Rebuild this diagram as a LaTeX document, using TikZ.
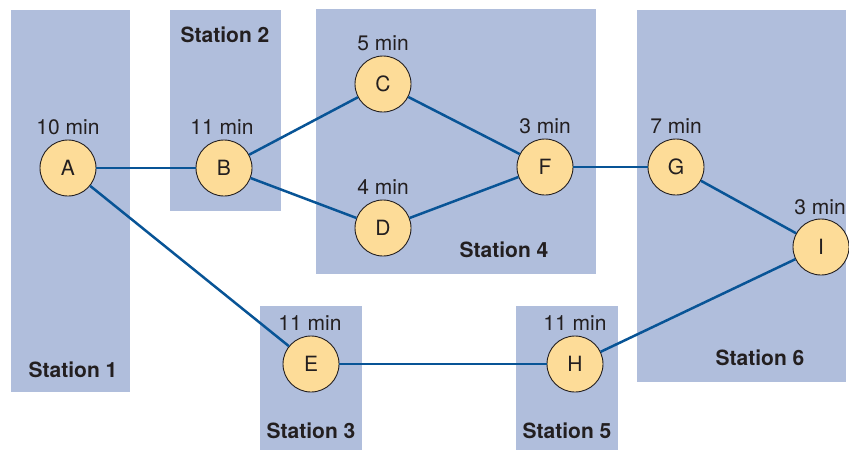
\documentclass[tikz,border=0pt]{standalone}
\usepackage{fontspec}
\setmainfont{TeX Gyre Heros}
\definecolor{stationfill}{RGB}{176,190,220}
\definecolor{taskfill}{RGB}{253,220,152}
\definecolor{linkblue}{RGB}{8,84,150}
\definecolor{txt}{RGB}{35,31,32}
\begin{document}
\begin{tikzpicture}[x=1pt,y=-1pt,
  station/.style={fill=stationfill,draw=none},
  task/.style={circle,draw=txt,line width=0.9pt,fill=taskfill,minimum size=56pt,inner sep=0pt,font=\fontsize{21}{25}\selectfont,text=txt},
  timelbl/.style={font=\fontsize{21}{25}\selectfont,text=txt,inner sep=0pt},
  stlbl/.style={font=\fontsize{21}{25}\selectfont\bfseries,text=txt,inner sep=0pt},
  link/.style={draw=linkblue,line width=2.5pt}]
\useasboundingbox (0,0) rectangle (849,451);
% stations
\fill[station] (11,10) rectangle (130,392);
\fill[station] (170,10) rectangle (281,211);
\fill[station] (316,9) rectangle (596,274);
\fill[station] (637,10) rectangle (846,382);
\fill[station] (260,306) rectangle (362,450);
\fill[station] (516,306) rectangle (618,450);
\node[stlbl] (s1) at (73,370) {Station 1};
\node[stlbl] (s2) at (225,35) {Station 2};
\node[stlbl] (s4) at (504,250) {Station 4};
\node[stlbl] (s6) at (760,358) {Station 6};
\node[stlbl] (s3) at (311,431) {Station 3};
\node[stlbl] (s5) at (567,431) {Station 5};
% tasks
\node[task] (A) at (68,168) {A};
\node[task] (B) at (224,168) {B};
\node[task] (C) at (383,84) {C};
\node[task] (D) at (383,228) {D};
\node[task] (F) at (545,167) {F};
\node[task] (G) at (676,167) {G};
\node[task] (I) at (821,247) {I};
\node[task] (E) at (311,364) {E};
\node[task] (H) at (575,364) {H};
% times
\node[timelbl] (tA) at (68,127) {10 min};
\node[timelbl] (tB) at (222,127) {11 min};
\node[timelbl] (tC) at (383,43) {5 min};
\node[timelbl] (tD) at (383,187) {4 min};
\node[timelbl] (tF) at (545,126) {3 min};
\node[timelbl] (tG) at (676,126) {7 min};
\node[timelbl] (tI) at (820,207) {3 min};
\node[timelbl] (tE) at (310,323) {11 min};
\node[timelbl] (tH) at (575,323) {11 min};
% links
\draw[link] (A) -- (B);
\draw[link] (A) -- (E);
\draw[link] (B) -- (C);
\draw[link] (B) -- (D);
\draw[link] (C) -- (F);
\draw[link] (D) -- (F);
\draw[link] (F) -- (G);
\draw[link] (G) -- (I);
\draw[link] (E) -- (H);
\draw[link] (H) -- (I);
\end{tikzpicture}
\end{document}
